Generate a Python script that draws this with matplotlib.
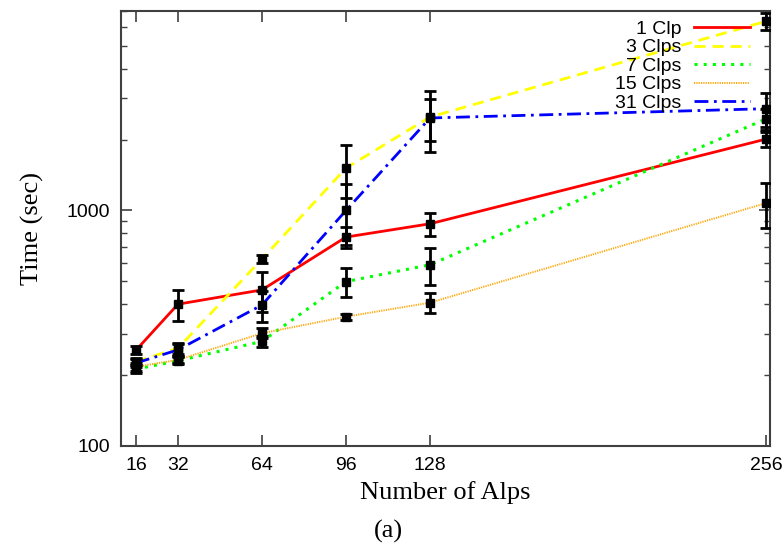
import matplotlib
matplotlib.use("Agg")
import matplotlib.pyplot as plt
from matplotlib.ticker import FixedLocator, LogLocator, NullFormatter

# x positions (number of Alps)
alps = [16, 32, 64, 96, 128, 256]

# mean run time (sec) and +/- error for each configuration
clp1 = [255, 400, 460, 771, 878, 2010]
clp1_err = [10, 60, 90, 80, 100, 150]
clp3 = [228, 260, 622, 1514, 2494, 6360]
clp3_err = [8, 15, 25, 380, 720, 550]
clp7 = [212, 230, 278, 499, 588, 2450]
clp7_err = [8, 8, 15, 70, 105, 250]
clp15 = [217, 232, 301, 354, 406, 1075]
clp15_err = [8, 8, 15, 10, 40, 230]
clp31 = [225, 256, 397, 1000, 2470, 2705]
clp31_err = [8, 15, 60, 290, 500, 450]

series = [
    ("1 Clp", clp1, clp1_err, "#ff0000", "-", 2.0),
    ("3 Clps", clp3, clp3_err, "#ffff00", (0, (4, 2.5)), 2.0),
    ("7 Clps", clp7, clp7_err, "#00ff00", (0, (1, 2)), 2.2),
    ("15 Clps", clp15, clp15_err, "#ffa500", (0, (0.6, 0.6)), 1.4),
    ("31 Clps", clp31, clp31_err, "#0000ff", (0, (5, 2, 1, 2)), 2.0),
]

fig = plt.figure(figsize=(7.84, 5.46), dpi=100)
ax = fig.add_axes([0.1543, 0.1832, 0.8277, 0.7972])

for label, ys, err, color, ls, lw in series:
    ax.plot(alps, ys, color=color, linestyle=ls, linewidth=lw, label=label, zorder=2)
for label, ys, err, color, ls, lw in series:
    ax.errorbar(alps, ys, yerr=err, fmt="s", color="black", ms=6,
                elinewidth=2, capsize=4, capthick=2, zorder=3)

ax.set_yscale("log")
ax.set_xlim(10.3, 257.4)
ax.set_ylim(100, 7050)

ax.xaxis.set_major_locator(FixedLocator(alps))
ax.set_yticks([100, 1000])
ax.set_yticklabels(["100", "1000"])
ax.yaxis.set_minor_locator(LogLocator(base=10, subs=range(2, 10)))
ax.yaxis.set_minor_formatter(NullFormatter())

for t in ax.get_xticklabels() + ax.get_yticklabels():
    t.set_fontfamily("Liberation Sans")
    t.set_fontsize(14)

ax.tick_params(which="both", direction="in", top=True, right=True, colors="#404040")
ax.tick_params(which="major", length=8, width=1.2, pad=8, labelcolor="black")
ax.tick_params(which="minor", length=4, width=1.0)
for s in ax.spines.values():
    s.set_color("#404040")
    s.set_linewidth(1.5)

ax.set_xlabel("Number of Alps", family="Liberation Serif", fontsize=19, labelpad=5)
ax.set_ylabel("Time (sec)", family="Liberation Serif", fontsize=19, labelpad=16)

leg = ax.legend(loc="upper right", bbox_to_anchor=(1.0, 1.023), frameon=False,
                markerfirst=False, prop={"family": "Liberation Sans", "size": 14},
                handlelength=2.9, handletextpad=0.67, labelspacing=0.05,
                borderaxespad=1.0, borderpad=0.0)

fig.text(0.495, 0.0275, "(a)", family="Liberation Serif", fontsize=19,
         ha="center", va="center")

fig.savefig("out.png", dpi=100)
